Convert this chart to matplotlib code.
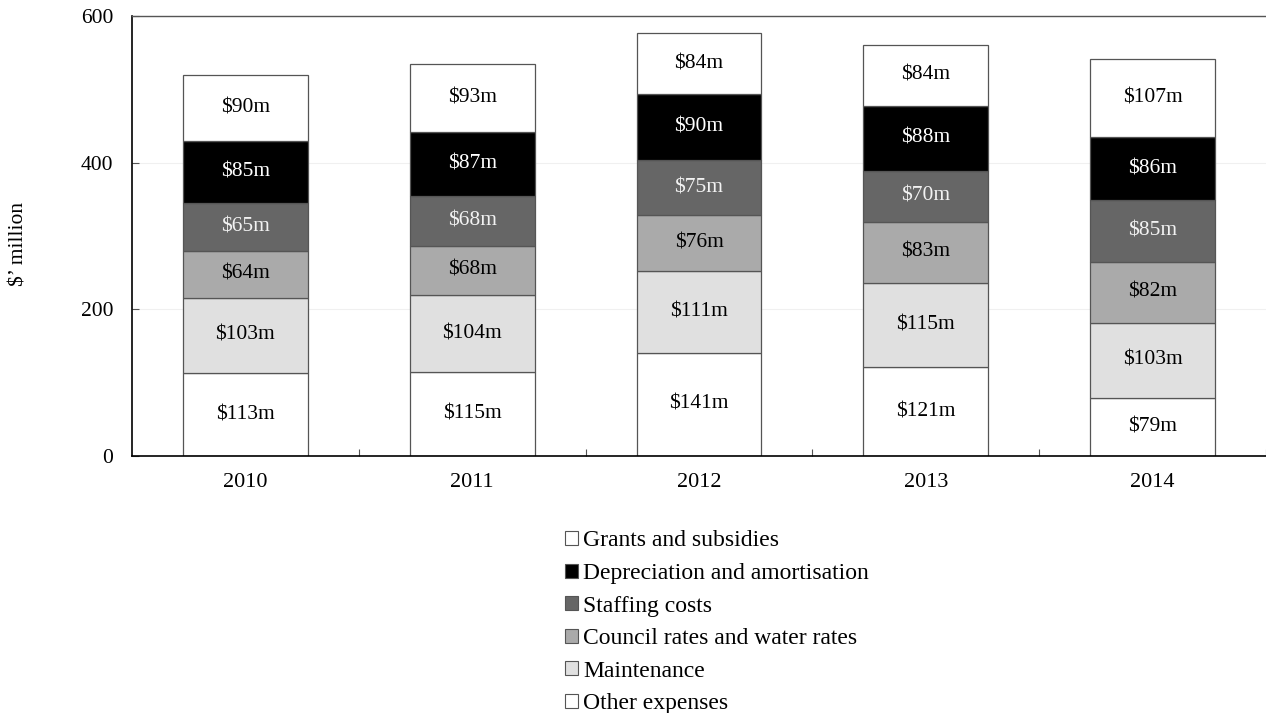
import matplotlib
matplotlib.use("Agg")
import matplotlib.pyplot as plt
import numpy as np
from matplotlib.patches import Patch

plt.rcParams['font.family'] = ['Liberation Serif', 'DejaVu Serif']

years = ['2010', '2011', '2012', '2013', '2014']
other = [113, 115, 141, 121, 79]
maintenance = [103, 104, 111, 115, 103]
council = [64, 68, 76, 83, 82]
staffing = [65, 68, 75, 70, 85]
depreciation = [85, 87, 90, 88, 86]
grants = [90, 93, 84, 84, 107]

# stacked from the bottom up
series = [
    ('Other expenses', other, '#ffffff', 'black'),
    ('Maintenance', maintenance, '#e0e0e0', 'black'),
    ('Council rates and water rates', council, '#aaaaaa', 'black'),
    ('Staffing costs', staffing, '#666666', '#f2f2f2'),
    ('Depreciation and amortisation', depreciation, '#000000', 'white'),
    ('Grants and subsidies', grants, '#ffffff', 'black'),
]

fig = plt.figure(figsize=(12.66, 7.13), dpi=100)
ax = fig.add_axes([132 / 1266, 1 - 456 / 713, 1 - 132 / 1266, 440 / 713])

x = np.arange(len(years))
bottom = np.zeros(len(years))
for name, vals, col, tcol in series:
    vals = np.array(vals)
    ax.bar(x, vals, 0.55, bottom=bottom, color=col,
           edgecolor='#555555', linewidth=0.9, zorder=2)
    for xi, b, v in zip(x, bottom, vals):
        ax.text(xi, b + v / 2, f'${v}m', ha='center', va='center',
                color=tcol, fontsize=15.5, zorder=3)
    bottom += vals

ax.set_xlim(-0.5, -0.5 + (1266 - 132) / 228)
ax.set_ylim(0, 600)
ax.set_yticks([0, 200, 400, 600])
ax.set_xticks(x)
ax.set_xticklabels(years)
ax.set_xticks(np.arange(len(years)) + 0.5, minor=True)
ax.tick_params(axis='x', which='major', length=0, pad=12, labelsize=16)
ax.tick_params(axis='x', which='minor', direction='in', length=5,
               width=0.8, color='#555555')
ax.tick_params(axis='y', direction='in', length=5, width=0.8,
               pad=13.5, labelsize=15.5, color='#555555')
ax.grid(axis='y', color='#f0f0f0', linewidth=0.8, zorder=0)

ax.spines['right'].set_visible(False)
ax.spines['top'].set_color('#555555')
ax.spines['top'].set_linewidth(1.0)
ax.spines['left'].set_linewidth(1.2)
ax.spines['bottom'].set_linewidth(1.2)

fig.text(19 / 1266, 1 - 244 / 713, '$\u2019 million', rotation=90,
         ha='center', va='center', fontsize=15.5)

handles = [Patch(facecolor=col, edgecolor='#555555', linewidth=0.8, label=name)
           for name, vals, col, tcol in series[::-1]]
fig.legend(handles=handles, loc='upper left',
           bbox_to_anchor=(556 / 1266, 1 - 521 / 713), frameon=False,
           fontsize=17, handlelength=0.55, handleheight=0.55,
           handletextpad=0.2, labelspacing=0.49, borderaxespad=0)

fig.savefig('out.png', dpi=100)
